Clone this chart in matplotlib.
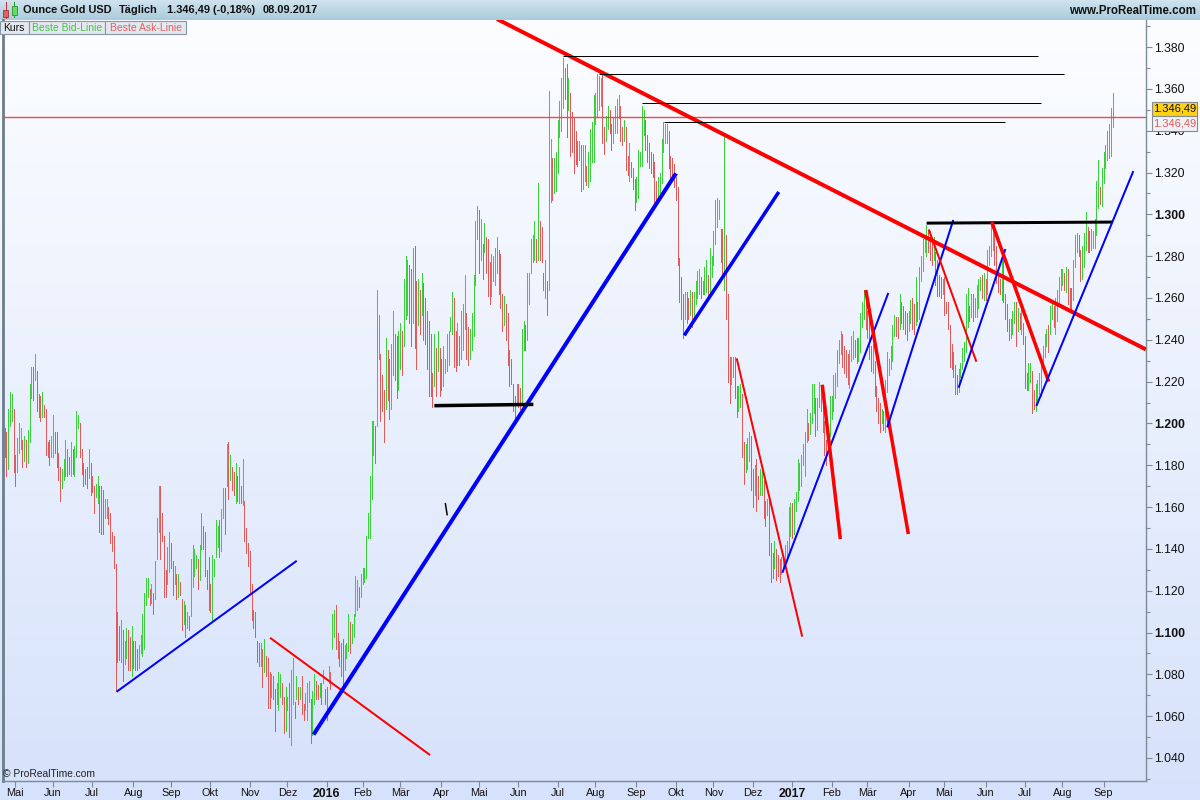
import numpy as np
import pandas as pd
import matplotlib
matplotlib.use("Agg")
import matplotlib.pyplot as plt
from matplotlib.patches import Rectangle
from matplotlib.ticker import MultipleLocator

plt.rcParams['font.family'] = ['Liberation Sans', 'DejaVu Sans']

# ---------------- data: daily bar lows / highs (USD), Apr 22 2015 .. Sep 8 2017 ----------------
low = [
    # Apr 2015 (from 22nd)
    1186, 1184, 1175, 1178, 1199, 1201, 1177,
    # May 2015
    1170, 1177, 1186, 1188, 1179, 1182, 1179, 1181, 1191, 1212, 1211, 1221, 1206, 1203, 1201, 1203, 1203, 1185, 1184, 1180, 1184,
    # Jun 2015
    1184, 1186, 1179, 1173, 1163, 1169, 1173, 1175, 1175, 1176, 1175, 1176, 1175, 1184, 1198, 1184, 1176, 1170, 1171, 1169, 1174, 1166,
    # Jul 2015 ...
    1167, 1157, 1165, 1162, 1148,
    1147, 1147, 1155, 1155, 1152, 1143, 1139, 1131, 1072, 1086, 1087, 1086, 1077, 1085, 1088, 1082, 1082, 1079, 1083, 1082,
    1082, 1083, 1090, 1089, 1092, 1113, 1117, 1113, 1114, 1109, 1116, 1135, 1148, 1135, 1144, 1117, 1117, 1123, 1129, 1131,
    1118, 1123, 1116, 1117, 1118, 1101, 1104, 1098, 1102, 1101, 1108, 1122, 1127, 1131, 1121, 1125, 1140, 1140, 1127, 1121,
    1111, 1110, 1106, 1127, 1136, 1141, 1136, 1139, 1155, 1147, 1170, 1164, 1173, 1168, 1166, 1162, 1163, 1162, 1162, 1161,
    1144, 1138, 1132, 1119, 1106, 1102, 1098, 1086, 1084, 1084, 1074, 1081, 1079, 1064, 1064, 1069, 1068, 1053, 1066, 1063,
    1069, 1066, 1052, 1053, 1063, 1050, 1046, 1066, 1059, 1068, 1066, 1068, 1061, 1058, 1063, 1058, 1067, 1047, 1051, 1066,
    1068, 1068, 1069, 1066, 1076, 1066, 1058, 1076, 1073, 1092, 1098, 1092, 1088, 1084,
    # Jan 2016 .. Jun 2016
    1079, 1074, 1082, 1088, 1091, 1090, 1095, 1098, 1108, 1111, 1112, 1117, 1123, 1124, 1126, 1145, 1145, 1164, 1185, 1181,
    1199, 1231, 1201, 1206, 1191, 1207, 1211, 1202, 1207, 1223, 1221, 1212, 1216, 1226, 1223, 1237, 1250, 1252, 1248, 1237,
    1248, 1236, 1226, 1247, 1243, 1252, 1240, 1238, 1226, 1213, 1213, 1208, 1218, 1213, 1225, 1213, 1216, 1218, 1224, 1225,
    1228, 1244, 1243, 1227, 1225, 1228, 1228, 1231, 1235, 1245, 1231, 1228, 1231, 1235, 1242, 1266, 1288, 1272, 1278, 1269,
    1282, 1272, 1261, 1257, 1261, 1268, 1266, 1272, 1262, 1255, 1244, 1247, 1240, 1228, 1218, 1219, 1206, 1202, 1210, 1208,
    1207, 1209, 1235, 1235, 1240, 1257, 1272, 1277, 1278, 1277,
    1278, 1278, 1277, 1264, 1260, 1252, 1264,
    # Jun 27-30 2016
    1306, 1307, 1310, 1311,
    # Jul 2016
    1320, 1337, 1340, 1351, 1355, 1337, 1350, 1328, 1330, 1320, 1324, 1323, 1326, 1311, 1312, 1316, 1314, 1313, 1316, 1325, 1325,
    # Aug 2016
    1343, 1347, 1350, 1352, 1334, 1329, 1335, 1341, 1339, 1331, 1334, 1339, 1339, 1346, 1335, 1333, 1335, 1321, 1319, 1316, 1318, 1312, 1302,
    # Sep 2016
    1306, 1308, 1323, 1323, 1338, 1331, 1325, 1322, 1320, 1318, 1306, 1306, 1307, 1310, 1315, 1330, 1334, 1334, 1322, 1316, 1316, 1313,
    # Oct 2016
    1307, 1276, 1258, 1250, 1241, 1250, 1248, 1250, 1252, 1246, 1250, 1257, 1260, 1262, 1260, 1262, 1262, 1263, 1260, 1263, 1270,
    # Nov 2016
    1276, 1286, 1294, 1298, 1277, 1271, 1264, 1250, 1220, 1210, 1219, 1222, 1212, 1203, 1206, 1208, 1184, 1171, 1177, 1178, 1182, 1168,
    # Dec 2016
    1160, 1166, 1158, 1164, 1166, 1166, 1155, 1151, 1156, 1137, 1124, 1126, 1131, 1125, 1127, 1124, 1128, 1130, 1131, 1134, 1139, 1146,
    # Jan 2017
    1145, 1147, 1158, 1163, 1168, 1170, 1180, 1175, 1191, 1192, 1195, 1200, 1205, 1194, 1197, 1208, 1206, 1196, 1185, 1180, 1187, 1194,
    # Feb 2017
    1202, 1206, 1212, 1218, 1229, 1233, 1227, 1224, 1222, 1219, 1217, 1230, 1231, 1232, 1229, 1230, 1234, 1246, 1250, 1245,
    # Mar 2017
    1241, 1231, 1225, 1224, 1213, 1206, 1200, 1196, 1200, 1197, 1196, 1215, 1223, 1226, 1230, 1242, 1242, 1241, 1245, 1248, 1245, 1243, 1240,
    # Apr 2017
    1244, 1248, 1245, 1243, 1247, 1249, 1250, 1268, 1273, 1282, 1280, 1282, 1278, 1276, 1278, 1266, 1261, 1261, 1260, 1262,
    # May 2017
    1252, 1253, 1245, 1227, 1226, 1222, 1214, 1214, 1215, 1222, 1226, 1230, 1234, 1246, 1249, 1251, 1249, 1251, 1251, 1255, 1264, 1260, 1259,
    # Jun 2017
    1259, 1262, 1276, 1280, 1283, 1276, 1267, 1263, 1262, 1259, 1258, 1250, 1244, 1240, 1241, 1243, 1248, 1237, 1244, 1245, 1243, 1238,
    # Jul 2017
    1217, 1216, 1216, 1220, 1205, 1207, 1206, 1210, 1214, 1213, 1226, 1232, 1237, 1234, 1243, 1250, 1246, 1243, 1249, 1256, 1264,
    # Aug 2017
    1266, 1264, 1263, 1257, 1255, 1254, 1259, 1275, 1282, 1280, 1268, 1269, 1275, 1283, 1282, 1282, 1283, 1284, 1284, 1290, 1303, 1305, 1304,
    # Sep 2017
    1315, 1322, 1326, 1327, 1328, 1342,
]

high = [
    # Apr 2015 (from 22nd)
    1205, 1198, 1196, 1207, 1215, 1214, 1207,
    # May 2015
    1185, 1193, 1200, 1198, 1192, 1194, 1192, 1197, 1219, 1227, 1227, 1233, 1225, 1214, 1213, 1215, 1209, 1207, 1191, 1192, 1194,
    # Jun 2015
    1204, 1196, 1196, 1186, 1179, 1178, 1183, 1192, 1188, 1184, 1191, 1188, 1189, 1206, 1204, 1200, 1188, 1181, 1178, 1179, 1188, 1181,
    # Jul 2015 ...
    1175, 1170, 1171, 1175, 1170,
    1170, 1168, 1164, 1164, 1160, 1157, 1148, 1146, 1133, 1110, 1103, 1106, 1101, 1096, 1102, 1101, 1098, 1103, 1096, 1096,
    1092, 1094, 1099, 1109, 1119, 1126, 1126, 1121, 1123, 1119, 1134, 1155, 1170, 1170, 1157, 1146, 1130, 1141, 1148, 1143,
    1134, 1132, 1128, 1128, 1124, 1116, 1115, 1113, 1110, 1108, 1135, 1142, 1140, 1137, 1135, 1142, 1157, 1151, 1148, 1130,
    1136, 1123, 1137, 1135, 1154, 1151, 1154, 1159, 1169, 1169, 1190, 1191, 1185, 1179, 1177, 1181, 1175, 1179, 1170, 1183,
    1163, 1150, 1143, 1139, 1123, 1111, 1110, 1096, 1095, 1095, 1092, 1097, 1089, 1088, 1081, 1080, 1079, 1073, 1076, 1081,
    1080, 1076, 1069, 1074, 1069, 1076, 1082, 1088, 1067, 1079, 1074, 1074, 1079, 1066, 1071, 1076, 1077, 1068, 1072, 1080,
    1077, 1075, 1076, 1076, 1082, 1073, 1074, 1084, 1081, 1109, 1111, 1113, 1100, 1096,
    # Jan 2016 .. Jun 2016
    1095, 1097, 1094, 1095, 1109, 1105, 1104, 1109, 1127, 1125, 1122, 1128, 1131, 1131, 1146, 1157, 1175, 1201, 1201, 1199,
    1264, 1252, 1233, 1223, 1216, 1241, 1235, 1231, 1238, 1254, 1243, 1242, 1244, 1248, 1244, 1269, 1280, 1278, 1276, 1274,
    1284, 1285, 1268, 1269, 1264, 1272, 1267, 1260, 1254, 1249, 1243, 1224, 1243, 1236, 1244, 1236, 1231, 1237, 1231, 1243,
    1244, 1251, 1263, 1260, 1244, 1248, 1242, 1254, 1257, 1271, 1253, 1246, 1245, 1253, 1271, 1297, 1304, 1302, 1298, 1286,
    1296, 1289, 1288, 1277, 1281, 1280, 1284, 1289, 1283, 1281, 1262, 1261, 1257, 1253, 1235, 1231, 1219, 1213, 1219, 1219,
    1217, 1245, 1249, 1247, 1272, 1272, 1288, 1290, 1297, 1288,
    1315, 1297, 1294, 1272, 1278, 1268, 1359,
    # Jun 27-30 2016
    1336, 1327, 1327, 1330,
    # Jul 2016
    1345, 1354, 1365, 1375, 1370, 1372, 1365, 1358, 1349, 1346, 1340, 1335, 1335, 1333, 1333, 1333, 1323, 1330, 1341, 1344, 1357,
    # Aug 2016
    1358, 1367, 1366, 1365, 1367, 1342, 1347, 1352, 1350, 1343, 1346, 1352, 1355, 1357, 1352, 1342, 1345, 1342, 1328, 1334, 1325, 1322, 1317,
    # Sep 2016
    1318, 1331, 1330, 1352, 1350, 1345, 1338, 1334, 1330, 1329, 1325, 1316, 1318, 1320, 1336, 1344, 1343, 1343, 1340, 1328, 1327, 1324,
    # Oct 2016
    1318, 1313, 1279, 1270, 1262, 1263, 1263, 1260, 1264, 1263, 1263, 1268, 1273, 1274, 1270, 1268, 1275, 1278, 1271, 1284, 1280,
    # Nov 2016
    1292, 1307, 1308, 1307, 1293, 1293, 1338, 1290, 1262, 1232, 1232, 1232, 1232, 1218, 1218, 1219, 1214, 1191, 1190, 1193, 1196, 1194,
    # Dec 2016
    1178, 1180, 1183, 1175, 1178, 1180, 1173, 1163, 1164, 1164, 1143, 1138, 1144, 1140, 1137, 1135, 1136, 1136, 1142, 1144, 1160, 1162,
    # Jan 2017
    1162, 1164, 1167, 1183, 1181, 1185, 1190, 1196, 1207, 1200, 1205, 1219, 1219, 1212, 1212, 1220, 1218, 1213, 1201, 1192, 1197, 1213,
    # Feb 2017
    1213, 1223, 1224, 1235, 1240, 1244, 1243, 1237, 1235, 1233, 1235, 1242, 1244, 1240, 1241, 1241, 1253, 1258, 1264, 1258,
    # Mar 2017
    1254, 1250, 1237, 1238, 1230, 1218, 1212, 1210, 1207, 1206, 1221, 1234, 1231, 1237, 1247, 1252, 1251, 1251, 1262, 1258, 1256, 1254, 1253,
    # Apr 2017
    1254, 1259, 1260, 1257, 1270, 1258, 1275, 1280, 1288, 1290, 1295, 1292, 1292, 1287, 1289, 1282, 1278, 1271, 1270, 1269,
    # May 2017
    1270, 1258, 1258, 1247, 1238, 1234, 1228, 1223, 1226, 1229, 1236, 1239, 1262, 1265, 1256, 1262, 1262, 1260, 1266, 1269, 1270, 1271, 1272,
    # Jun 2017
    1269, 1283, 1285, 1296, 1296, 1294, 1285, 1273, 1269, 1278, 1278, 1262, 1257, 1250, 1250, 1254, 1258, 1258, 1255, 1253, 1256, 1248,
    # Jul 2017
    1242, 1224, 1229, 1229, 1225, 1216, 1219, 1221, 1224, 1231, 1237, 1243, 1245, 1247, 1256, 1258, 1256, 1260, 1264, 1270, 1274,
    # Aug 2017
    1274, 1272, 1275, 1274, 1265, 1265, 1278, 1290, 1291, 1290, 1283, 1285, 1291, 1301, 1294, 1292, 1293, 1292, 1298, 1316, 1326, 1313, 1322,
    # Sep 2017
    1330, 1333, 1340, 1343, 1351, 1358,
]

last_day = "2017-09-08"
closed_days = ["2015-12-25", "2016-01-01"]
month_names = ["Jan", "Feb", "Mär", "Apr", "Mai", "Jun", "Jul", "Aug", "Sep", "Okt", "Nov", "Dez"]
price_ticks = list(range(1040, 1381, 20))
last_price = 1346.49

# drawn trend lines: (bar number, price) start and end
trend_start = [(63.6, 1071.7), (149.3, 1097.5), (173.6, 1051.2), (241.1, 1208.5), (247.2, 1162.0),
               (276.1, 1393.4), (313.1, 1375.7), (333.2, 1367.1), (357.3, 1353.2), (369.6, 1344.0),
               (380.7, 1242.1), (410.0, 1231.1), (435.5, 1128.6), (457.8, 1218.5), (482.1, 1263.8),
               (494.1, 1198.1), (517.3, 1292.8), (516.1, 1295.8), (534.0, 1217.1), (552.5, 1296.3),
               (577.4, 1208.3)]
trend_end = [(164.2, 1134.3), (238.7, 1041.4), (376.1, 1319.6), (296.4, 1209.1), (248.3, 1156.0),
             (638.6, 1235.4), (578.3, 1375.7), (592.8, 1367.1), (580.0, 1353.2), (559.9, 1344.0),
             (433.5, 1310.7), (446.6, 1098.0), (494.7, 1262.4), (467.9, 1144.7), (505.9, 1147.1),
             (531.0, 1297.3), (543.9, 1229.5), (619.7, 1296.3), (560.1, 1283.4), (584.3, 1220.0),
             (631.6, 1320.7)]

# styles for trend lines (colour, width in px)
trend_color = ["#0000ff", "#ff0000", "#0000ff", "#000000", "#000000",
               "#ff0000", "#000000", "#000000", "#000000", "#000000",
               "#0000ff", "#ff0000", "#0000ff", "#ff0000", "#ff0000",
               "#0000ff", "#ff0000", "#000000", "#0000ff", "#ff0000",
               "#0000ff"]
trend_px = [2, 2, 4, 3.5, 1.5,
            4, 1, 1, 1, 1,
            3.5, 2, 2, 3.5, 3.5,
            2, 2, 3, 2, 3.5,
            2]

# ---------------- layout ----------------
W, H = 1200, 800
fig = plt.figure(figsize=(12, 8), dpi=100)
fig.patch.set_facecolor("#d9e4fb")

def fx(px):
    return px / W

def fy(py):
    return 1 - py / H

PT = 72 / 100.0  # points per pixel

# background gradient (below header)
bg = fig.add_axes([0, 0, 1, fy(20)])
bg.set_axis_off()
top_c = np.array([252, 253, 255]) / 255
bot_c = np.array([214, 226, 251]) / 255
t = np.linspace(0, 1, 256)[:, None]
grad = top_c[None, None, :] * (1 - t[..., None]) + bot_c[None, None, :] * t[..., None]
grad = np.repeat(grad, 2, axis=1)
bg.imshow(grad, aspect="auto", extent=[0, 1, 0, 1], zorder=0)
bg.set_xlim(0, 1)
bg.set_ylim(0, 1)

# header bar
hd = fig.add_axes([0, fy(20), 1, 20 / H])
hd.set_axis_off()
h_top = np.array([208, 227, 238]) / 255
h_bot = np.array([170, 203, 220]) / 255
th = np.linspace(0, 1, 64)[:, None]
hgrad = h_top[None, None, :] * (1 - th[..., None]) + h_bot[None, None, :] * th[..., None]
hgrad = np.repeat(hgrad, 2, axis=1)
hd.imshow(hgrad, aspect="auto", extent=[0, 1, 0, 1])
hd.set_xlim(0, 1)
hd.set_ylim(0, 1)

# main axes
L, R, T, B = 3, 1146, 20, 781
ax = fig.add_axes([fx(L), fy(B), fx(R - L), (B - T) / H])
ax.set_facecolor("none")

N = len(low)
days = pd.bdate_range(end=last_day, periods=N + 10, freq="C", holidays=closed_days)[-N:]
xs = np.arange(N)
lo = np.array(low, dtype=float)
hi = np.array(high, dtype=float)
mid = (lo + hi) / 2
up = np.r_[True, mid[1:] >= mid[:-1]]
cols = np.where(up, "#3ccf3c", "#e05a5a")
ax.vlines(xs, lo, hi, colors=cols, linewidth=1.0 * PT, antialiased=False, zorder=2)

# current price line
ax.axhline(last_price, color="#f04848", lw=1.0, zorder=3)

# trend lines
for (x0, p0), (x1, p1), c, w in zip(trend_start, trend_end, trend_color, trend_px):
    ax.plot([x0, x1], [p0, p1], color=c, lw=w * PT, solid_capstyle="butt", zorder=4)

# axes scaling (pixel mapping)
px_per_bar = 1.79
x_first = 2.8
ax.set_xlim((L - x_first) / px_per_bar, (R - x_first) / px_per_bar)
ppu = 2.091  # pixels per USD
ax.set_ylim(1040 - (B - 758) / ppu, 1040 + (758 - T) / ppu)

# x ticks at month starts
mpos, mlab, mbold = [], [], []
for i in range(1, N):
    if days[i].month != days[i - 1].month:
        mpos.append(i)
        if days[i].month == 1:
            mlab.append(str(days[i].year))
            mbold.append(True)
        else:
            mlab.append(month_names[days[i].month - 1])
            mbold.append(False)
ax.set_xticks(mpos)
ax.set_xticklabels(mlab)
for lab, b in zip(ax.get_xticklabels(), mbold):
    if b:
        lab.set_fontweight("bold")
        lab.set_fontsize(8.8)
    else:
        lab.set_fontsize(7.8)
ax.tick_params(axis="x", direction="out", length=4, width=0.8, color="#7d8b98", pad=1.0, labelcolor="#111111")

# y ticks on the right
ax.yaxis.tick_right()
ax.set_yticks(price_ticks)
ax.set_yticklabels([f"{v:,}".replace(",", ".") for v in price_ticks])
for lab, v in zip(ax.get_yticklabels(), price_ticks):
    lab.set_fontsize(8.8)
    if v % 100 == 0:
        lab.set_fontweight("bold")
ax.yaxis.set_minor_locator(MultipleLocator(10))
ax.tick_params(axis="y", which="major", direction="out", length=4, width=0.8, color="#7d8b98", pad=2, labelcolor="#111111")
ax.tick_params(axis="y", which="minor", direction="out", length=3, width=0.8, color="#7d8b98")
ax.tick_params(axis="x", which="minor", length=0)

ax.spines["top"].set_visible(False)
for s in ["right", "bottom", "left"]:
    ax.spines[s].set_color("#7d8b98")
    ax.spines[s].set_linewidth(1.0)
ax.spines["left"].set_linewidth(2.0)
ax.spines["left"].set_color("#6c7d8c")

# ---------------- header texts ----------------
hdr = dict(fontsize=7.9, fontweight="bold", va="center", color="#111111")
fig.text(fx(23), fy(10), "Ounce Gold USD", **hdr)
fig.text(fx(119), fy(10), "Täglich", **hdr)
fig.text(fx(167), fy(10), "1.346,49 (-0,18%)", **hdr)
fig.text(fx(263), fy(10), "08.09.2017", **hdr)
fig.text(fx(1196), fy(11), "www.ProRealTime.com", ha="right", fontsize=8.3, fontweight="bold",
         va="center", color="#111111")

# candle icon
fig.patches.append(Rectangle((fx(5.5), fy(18.5)), fx(1), 16 / H, transform=fig.transFigure,
                             facecolor="#c03030", edgecolor="none", zorder=5))
fig.patches.append(Rectangle((fx(3.3), fy(16.7)), fx(5), 6.7 / H, transform=fig.transFigure,
                             facecolor="#e86060", edgecolor="#902020", lw=0.5, zorder=6))
fig.patches.append(Rectangle((fx(13.8), fy(17.5)), fx(1), 15 / H, transform=fig.transFigure,
                             facecolor="#20a020", edgecolor="none", zorder=5))
fig.patches.append(Rectangle((fx(11.7), fy(15)), fx(5), 9 / H, transform=fig.transFigure,
                             facecolor="#60e060", edgecolor="#208020", lw=0.5, zorder=6))

# tabs
tabs = [("Kurs", 0, 28.5, "#111111"), ("Beste Bid-Linie", 28.5, 105.3, "#44c444"),
        ("Beste Ask-Linie", 105.3, 186, "#e06060")]
for txt, x0, x1, c in tabs:
    fig.patches.append(Rectangle((fx(x0), fy(34)), fx(x1 - x0), 13.3 / H, transform=fig.transFigure,
                                 facecolor="#e3e8ee", edgecolor="#8796a5", lw=0.8, zorder=6))
    fig.text(fx((x0 + x1) / 2), fy(27.6), txt, ha="center", va="center", fontsize=7.5, color=c, zorder=7)

# price boxes on the axis
fig.patches.append(Rectangle((fx(1152), fy(116)), fx(45), 14.5 / H, transform=fig.transFigure,
                             facecolor="#ffd21a", edgecolor="#8a8a8a", lw=0.8, zorder=8))
fig.text(fx(1174.5), fy(108.8), "1.346,49", ha="center", va="center", fontsize=8.0, color="#111111", zorder=9)
fig.patches.append(Rectangle((fx(1152), fy(130.5)), fx(45), 14.5 / H, transform=fig.transFigure,
                             facecolor="#eef1f6", edgecolor="#8a8a8a", lw=0.8, zorder=8))
fig.text(fx(1174.5), fy(123.3), "1.346,49", ha="center", va="center", fontsize=8.0, color="#e05a5a", zorder=9)

# copyright
fig.text(fx(3), fy(774), "© ProRealTime.com", ha="left", va="center", fontsize=7.4, color="#222222")

fig.savefig("out.png", dpi=100)
